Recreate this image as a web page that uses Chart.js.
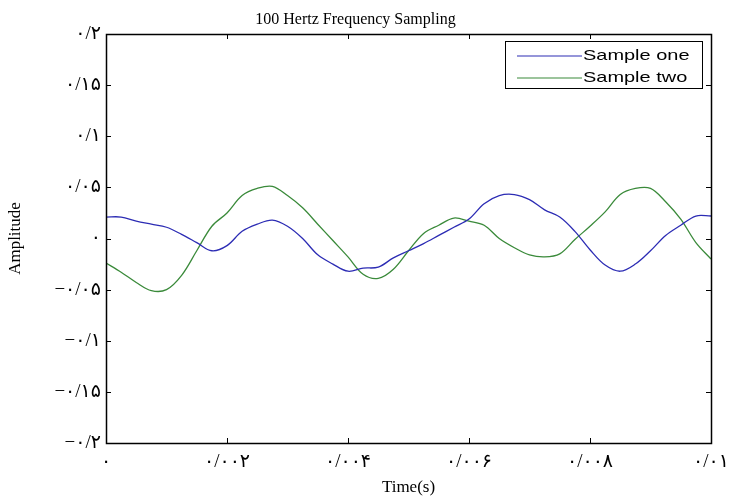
<!DOCTYPE html>
<html>
<head>
<meta charset="utf-8">
<script src="https://cdn.jsdelivr.net/npm/chart.js@4"></script>
<style>
  html, body { margin: 0; padding: 0; background: #fff; }
  #wrap { width: 732px; height: 500px; }
</style>
</head>
<body>
<div id="wrap"><canvas id="freqChart" width="732" height="500"></canvas></div>
<script>
// time grid (s), read every 0.00025 s
const times = [
  0, 0.00025, 0.0005, 0.00075, 0.001, 0.00125, 0.0015, 0.00175, 0.002, 0.00225,
  0.0025, 0.00275, 0.003, 0.00325, 0.0035, 0.00375, 0.004, 0.00425, 0.0045, 0.00475,
  0.005, 0.00525, 0.0055, 0.00575, 0.006, 0.00625, 0.0065, 0.00675, 0.007, 0.00725,
  0.0075, 0.00775, 0.008, 0.00825, 0.0085, 0.00875, 0.009, 0.00925, 0.0095, 0.00975, 0.01
];
const sampleOne = [
  0.021, 0.021, 0.017, 0.014, 0.011, 0.004, -0.004, -0.012, -0.007, 0.007,
  0.014, 0.018, 0.012, 0.000, -0.016, -0.025, -0.032, -0.029, -0.028, -0.019,
  -0.012, -0.005, 0.003, 0.011, 0.019, 0.034, 0.042, 0.043, 0.038, 0.028,
  0.021, 0.007, -0.011, -0.026, -0.032, -0.025, -0.012, 0.003, 0.013, 0.022, 0.022
];
const sampleTwo = [
  -0.024, -0.033, -0.043, -0.051, -0.050, -0.036, -0.012, 0.012, 0.025, 0.042,
  0.049, 0.051, 0.042, 0.030, 0.014, -0.002, -0.018, -0.035, -0.039, -0.030,
  -0.012, 0.005, 0.013, 0.020, 0.017, 0.013, 0.000, -0.009, -0.016, -0.018,
  -0.015, -0.001, 0.012, 0.026, 0.043, 0.049, 0.049, 0.036, 0.019, -0.004, -0.020
];
const seriesLabels = ['Sample one', 'Sample two'];
const xTickLabels = ['۰', '۰/۰۰۲', '۰/۰۰۴', '۰/۰۰۶', '۰/۰۰۸', '۰/۰۱'];
const yTickLabels = ['−۰/۲', '−۰/۱۵', '−۰/۱', '−۰/۰۵', '۰', '۰/۰۵', '۰/۱', '۰/۱۵', '۰/۲'];

const serif = "'Times New Roman', 'Liberation Serif', 'DejaVu Sans', serif";
const blue = '#2c2cb4';
const green = '#3a8a3a';

// MATLAB style box, inward ticks and legend
const matlabFrame = {
  id: 'matlabFrame',
  afterDraw(chart) {
    const ctx = chart.ctx;
    const a = chart.chartArea;
    const xs = chart.scales.x, ys = chart.scales.y;
    const len = 5;
    ctx.save();
    ctx.strokeStyle = '#000';
    ctx.lineWidth = 1;
    ctx.beginPath();
    xs.ticks.forEach(t => {
      const px = Math.round(xs.getPixelForValue(t.value)) + 0.5;
      ctx.moveTo(px, a.bottom); ctx.lineTo(px, a.bottom - len);
      ctx.moveTo(px, a.top); ctx.lineTo(px, a.top + len);
    });
    ys.ticks.forEach(t => {
      const py = Math.round(ys.getPixelForValue(t.value)) + 0.5;
      ctx.moveTo(a.left, py); ctx.lineTo(a.left + len, py);
      ctx.moveTo(a.right, py); ctx.lineTo(a.right - len, py);
    });
    ctx.stroke();
    ctx.lineWidth = 1.5;
    ctx.strokeRect(Math.round(a.left) + 0.5, Math.round(a.top) + 0.5,
      Math.round(a.right - a.left), Math.round(a.bottom - a.top));

    // legend box
    const bw = 197, bh = 47;
    const bx = a.right - 9 - bw, by = a.top + 7;
    ctx.fillStyle = '#fff';
    ctx.fillRect(bx, by, bw, bh);
    ctx.lineWidth = 1;
    ctx.strokeRect(bx + 0.5, by + 0.5, bw, bh);
    ctx.font = "15px 'Liberation Sans', Arial, sans-serif";
    ctx.textBaseline = 'middle';
    chart.data.datasets.forEach((ds, i) => {
      const ly = by + 15 + i * 22;
      ctx.strokeStyle = ds.borderColor;
      ctx.lineWidth = 1.2;
      ctx.beginPath();
      ctx.moveTo(bx + 12, ly); ctx.lineTo(bx + 77, ly);
      ctx.stroke();
      ctx.fillStyle = '#000';
      // legend text in the reference is drawn wide
      ctx.save();
      ctx.translate(bx + 78, ly);
      ctx.scale(1.33, 1);
      ctx.fillText(ds.label, 0, 0);
      ctx.restore();
    });
    ctx.restore();
  }
};

new Chart(document.getElementById('freqChart'), {
  type: 'line',
  data: {
    datasets: [
      {
        label: seriesLabels[0],
        data: times.map((t, i) => ({ x: t, y: sampleOne[i] })),
        borderColor: blue,
        borderWidth: 1.3,
        pointRadius: 0,
        tension: 0.35,
        fill: false,
      },
      {
        label: seriesLabels[1],
        data: times.map((t, i) => ({ x: t, y: sampleTwo[i] })),
        borderColor: green,
        borderWidth: 1.3,
        pointRadius: 0,
        tension: 0.35,
        fill: false,
      },
    ],
  },
  options: {
    responsive: false,
    animation: false,
    layout: { padding: { left: 0, right: 21, top: 0, bottom: 0 } },
    plugins: {
      legend: { display: false },
      tooltip: { enabled: false },
      title: {
        display: true,
        text: '100 Hertz Frequency Sampling',
        color: '#000',
        font: { family: serif, size: 16, weight: 'normal' },
        padding: { top: 10, bottom: 4.8 },
      },
    },
    scales: {
      x: {
        type: 'linear',
        min: 0,
        max: 0.01,
        grid: { display: false, drawTicks: false },
        border: { display: false },
        ticks: {
          stepSize: 0.002,
          color: '#000',
          padding: 8,
          maxRotation: 0,
          font: { family: serif, size: 19 },
          callback: (v, i) => xTickLabels[i],
        },
        title: {
          display: true,
          text: 'Time(s)',
          color: '#000',
          font: { family: serif, size: 17 },
          padding: { top: 0, bottom: 2 },
        },
        afterFit: (s) => {
          s.height = 57;
          // let the last label run past the plot edge, as in the reference
          s.paddingLeft = 0;
          s.paddingRight = 0;
        },
      },
      y: {
        min: -0.2,
        max: 0.2,
        grid: { display: false, drawTicks: false },
        border: { display: false },
        ticks: {
          stepSize: 0.05,
          color: '#000',
          padding: 5,
          font: { family: serif, size: 19 },
          callback: (v, i) => yTickLabels[i],
        },
        title: {
          display: true,
          text: 'Amplitude',
          color: '#000',
          font: { family: serif, size: 17 },
          padding: { top: 5, bottom: 0 },
        },
        afterFit: (s) => {
          s.width = 106;
          s.paddingTop = 0;
          s.paddingBottom = 0;
        },
      },
    },
  },
  plugins: [matlabFrame],
});
</script>
</body>
</html>
